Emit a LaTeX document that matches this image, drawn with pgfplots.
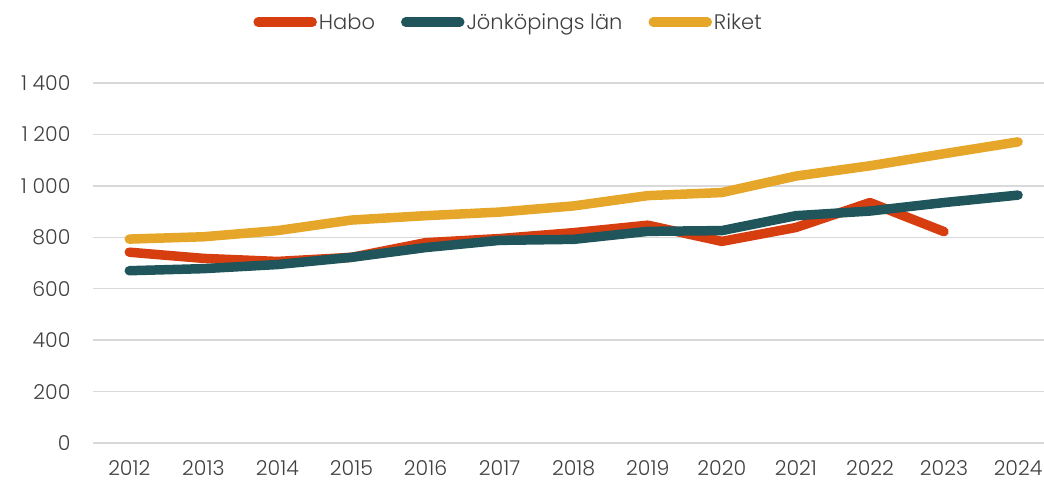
\documentclass[border=0pt]{standalone}
\usepackage{fontspec}
\setmainfont{Poppins}[UprightFont=* Light]
\usepackage{pgfplots}
\pgfplotsset{compat=1.18}
\definecolor{habo}{HTML}{D63E10}
\definecolor{jkp}{HTML}{1F555B}
\definecolor{riket}{HTML}{E5A629}
\definecolor{gridc}{HTML}{D9D9D9}
\definecolor{txt}{HTML}{404040}
\begin{document}
\begin{tikzpicture}
\useasboundingbox (0,0) rectangle (1044bp,484bp);
\begin{axis}[
  at={(93bp,41bp)}, anchor=south west,
  scale only axis, width=951bp, height=360bp,
  xmin=-0.49, xmax=12.35, ymin=0, ymax=1400,
  axis line style={draw=none},
  tick style={draw=none},
  xtick={0,...,12},
  xticklabels={2012,2013,2014,2015,2016,2017,2018,2019,2020,2021,2022,2023,2024},
  ytick={0,200,...,1400},
  yticklabels={0,200,400,600,800,1 000,1 200,1 400},
  ymajorgrids, grid style={gridc, line width=1.5bp},
  tick label style={font=\fontsize{20.5bp}{24bp}\selectfont, text=txt},
  yticklabel style={anchor=east, xshift=-19bp},
  xticklabel style={anchor=center, yshift=-25bp, inner sep=1bp},
  legend style={at={(0.437,1.169)}, anchor=center, draw=none, fill=none,
    legend columns=3, font=\fontsize{21bp}{24bp}\selectfont, text=txt,
    /tikz/every even column/.append style={column sep=24bp},
    inner sep=0pt},
  legend image code/.code={\draw[#1, line cap=round] (0bp,0bp) -- (54bp,0bp);},
  every axis plot/.append style={line width=9.5bp, line join=round, line cap=round},
]
\addplot[habo] coordinates {(0,742) (1,718) (2,706) (3,722) (4,779) (5,795) (6,818) (7,847) (8,784) (9,838) (10,935) (11,822)};
\addlegendentry{Habo}
\addplot[jkp] coordinates {(0,670) (1,678) (2,694) (3,722) (4,760) (5,788) (6,792) (7,823) (8,826) (9,884) (10,902) (11,935) (12,964)};
\addlegendentry{Jönköpings län}
\addplot[riket] coordinates {(0,793) (1,802) (2,826) (3,867) (4,884) (5,898) (6,922) (7,962) (8,974) (9,1038) (10,1078) (11,1125) (12,1171)};
\addlegendentry{Riket}
\end{axis}
\end{tikzpicture}
\end{document}
